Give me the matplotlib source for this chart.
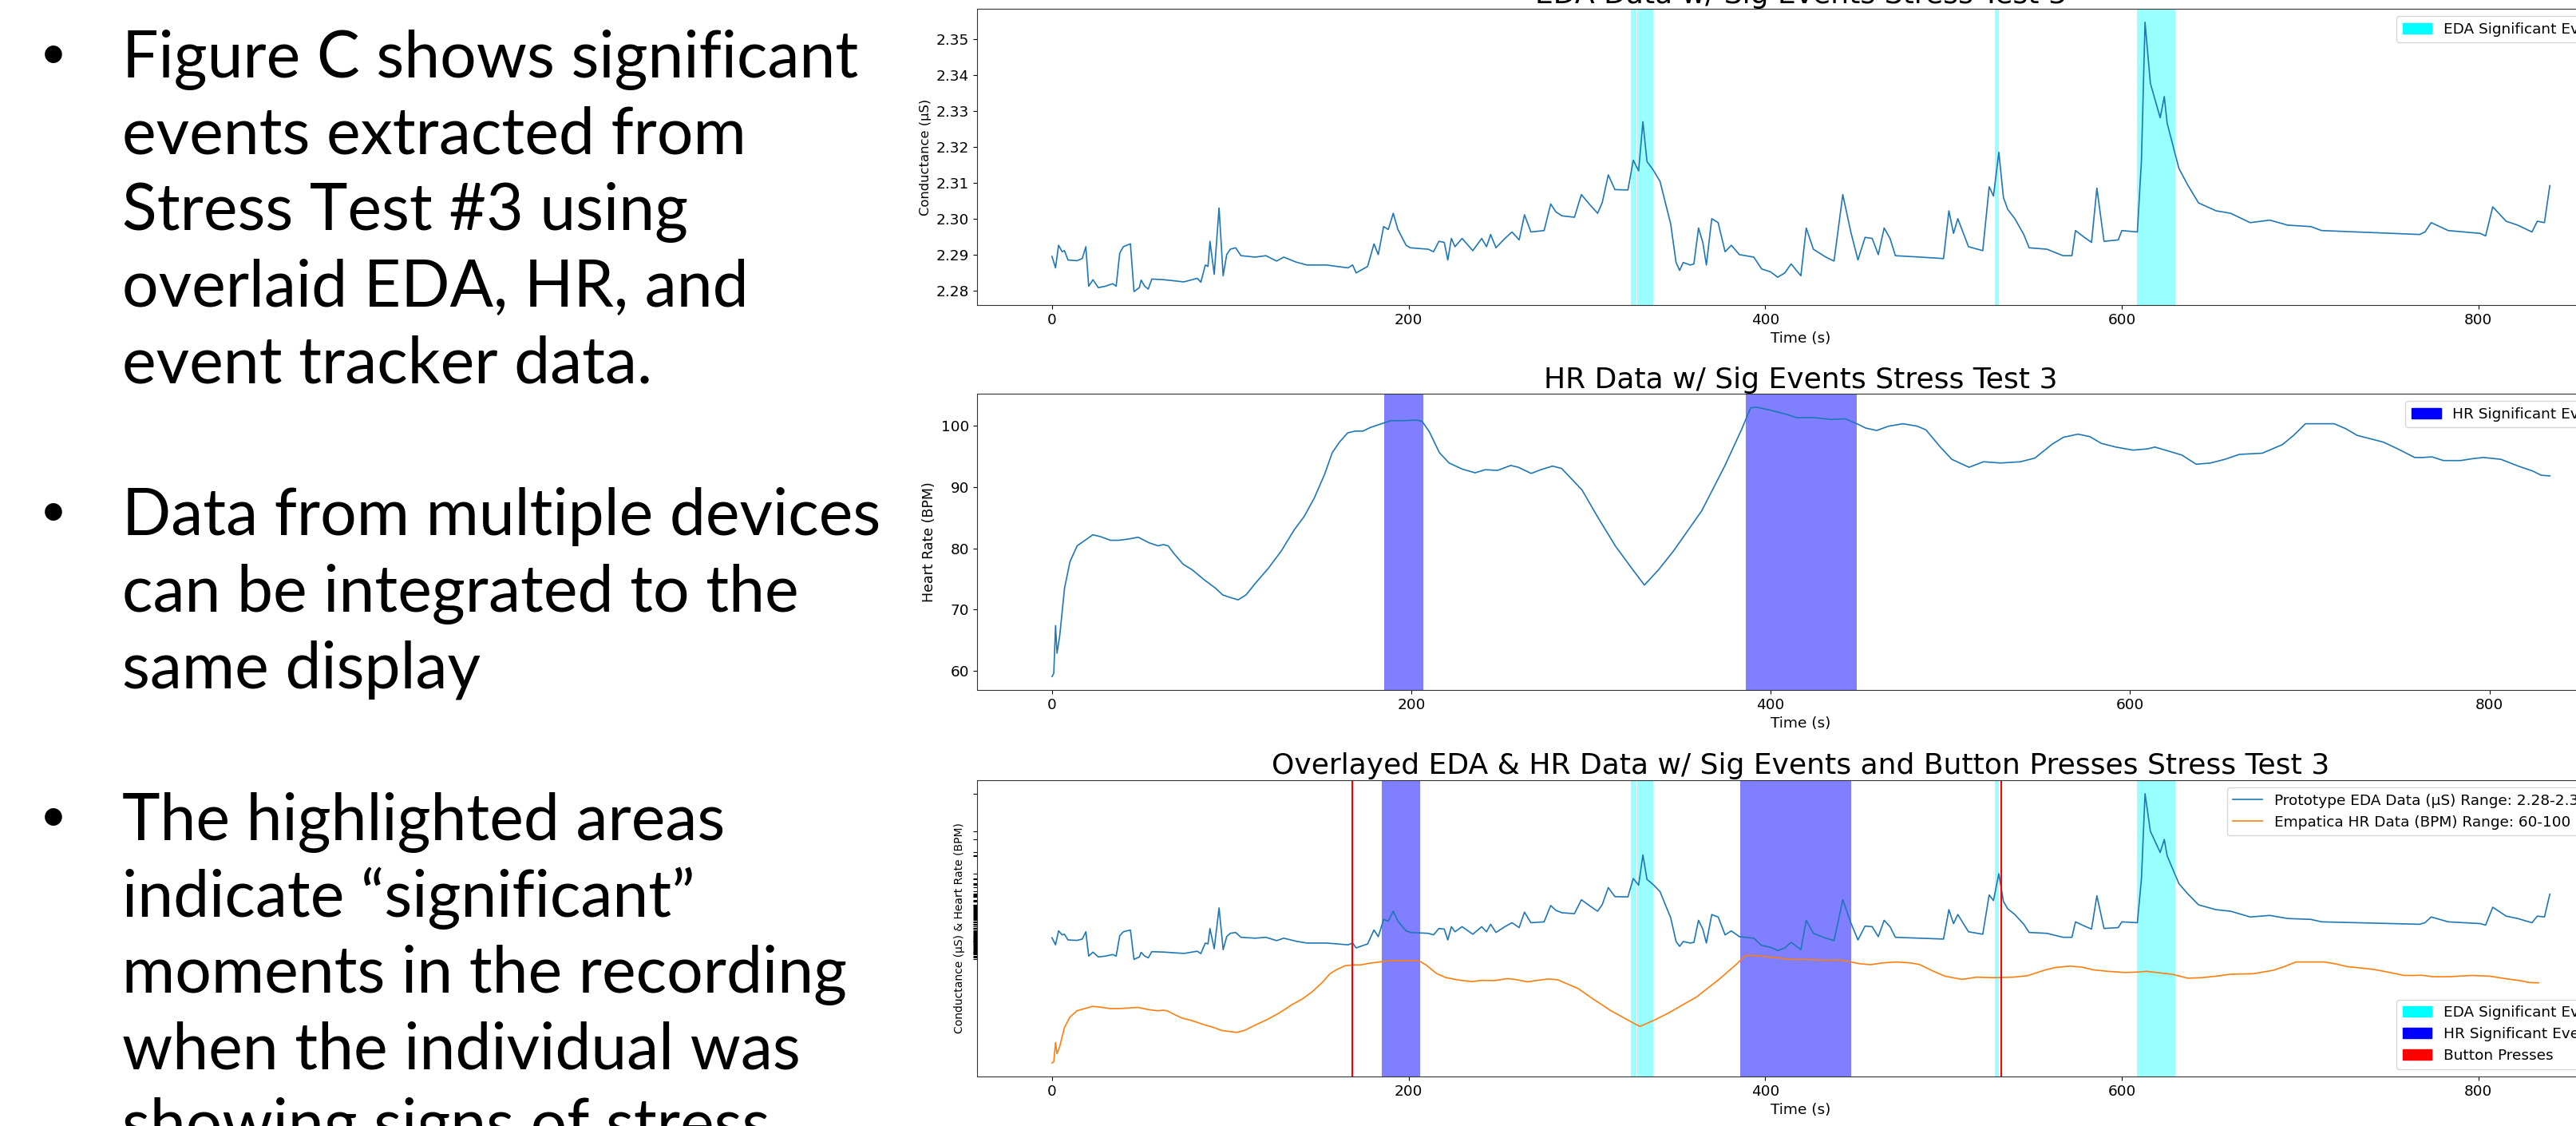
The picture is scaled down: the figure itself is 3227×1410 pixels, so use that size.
import matplotlib
matplotlib.use('Agg')
import matplotlib.pyplot as plt
from matplotlib.patches import Patch

# EDA trace (time s, conductance uS)
eda_t = [0, 2, 3.7, 5.7, 7, 9, 14, 17, 19, 20.6, 23, 26, 30, 34, 36, 38, 40, 44, 46, 49, 50, 52, 54, 56,
         63, 74, 81.5, 83.5, 86, 87.5, 88.6, 91, 93.7, 96, 98, 100, 103, 106, 114, 120, 126, 130, 137,
         143, 154, 166, 168.6, 170.6, 177, 180.6, 183, 186, 188.6, 191.4, 194, 198.6, 201, 211, 214,
         217, 220, 222, 224, 226, 230, 236, 241, 243.7, 246, 249, 254, 258, 262, 265, 268.6, 276,
         279.7, 282.6, 286, 293, 296.9, 302, 306, 308.6, 312, 315.7, 323, 326, 329, 331.4, 333.7, 337,
         341, 347, 350, 352, 354, 358, 360, 362.6, 365, 367, 370, 373.6, 377.5, 381, 385.5, 393.6, 398,
         403, 407, 411, 414.5, 420, 423, 427, 434, 438.6, 443.5, 448, 452, 456, 460, 463.4, 466.7, 470,
         473, 487, 500, 503, 505.6, 508, 514, 522, 525.6, 528, 531, 533.6, 536, 540, 545, 548, 558, 567,
         572, 574, 579, 583, 586, 590, 598, 600, 608.7, 611, 613, 616, 621.5, 623.8, 625.4, 632, 636.7,
         643, 652.8, 661, 672, 683, 693, 706, 712, 731.7, 751, 767, 770, 773.5, 783, 801, 804, 808,
         815.5, 822, 830, 833, 837, 840]
eda_v = [2.2896, 2.2864, 2.2927, 2.2909, 2.2912, 2.2886, 2.2884, 2.2890, 2.2923, 2.2813, 2.2831, 2.2809,
         2.2813, 2.2820, 2.2813, 2.2905, 2.2923, 2.2931, 2.2798, 2.2809, 2.2830, 2.2813, 2.2805, 2.2833,
         2.2831, 2.2825, 2.2835, 2.2824, 2.2872, 2.2868, 2.2938, 2.2846, 2.3031, 2.2842, 2.2901, 2.2916,
         2.2920, 2.2898, 2.2894, 2.2898, 2.2883, 2.2894, 2.2880, 2.2872, 2.2872, 2.2864, 2.2872, 2.2850,
         2.2868, 2.2931, 2.2901, 2.2979, 2.2971, 2.3016, 2.2971, 2.2927, 2.2920, 2.2916, 2.2909, 2.2938,
         2.2935, 2.2886, 2.2946, 2.2923, 2.2946, 2.2912, 2.2946, 2.2923, 2.2957, 2.2920, 2.2946, 2.2964,
         2.2942, 2.3012, 2.2964, 2.2968, 2.3042, 2.3020, 2.3009, 2.3005, 2.3068, 2.3038, 2.3016, 2.3046,
         2.3123, 2.3082, 2.3081, 2.3164, 2.3134, 2.3271, 2.3160, 2.3138, 2.3105, 2.2986, 2.2879, 2.2857,
         2.2879, 2.2872, 2.2875, 2.2975, 2.2935, 2.2872, 2.3001, 2.2990, 2.2909, 2.2927, 2.2901, 2.2894,
         2.2861, 2.2853, 2.2838, 2.2850, 2.2875, 2.2842, 2.2975, 2.2916, 2.2894, 2.2883, 2.3068, 2.2964,
         2.2886, 2.2949, 2.2946, 2.2901, 2.2975, 2.2946, 2.2898, 2.2894, 2.2890, 2.3023, 2.2960, 2.3001,
         2.2923, 2.2912, 2.3090, 2.3064, 2.3186, 2.3060, 2.3027, 2.3001, 2.2957, 2.2920, 2.2916, 2.2898,
         2.2898, 2.2968, 2.2949, 2.2935, 2.3086, 2.2938, 2.2942, 2.2968, 2.2964, 2.3164, 2.3548, 2.3378,
         2.3282, 2.3341, 2.3267, 2.3141, 2.3097, 2.3045, 2.3023, 2.3016, 2.2990, 2.2997, 2.2983, 2.2979,
         2.2968, 2.2964, 2.2960, 2.2957, 2.2964, 2.2990, 2.2968, 2.2960, 2.2953, 2.3034, 2.2994, 2.2983,
         2.2964, 2.2994, 2.2990, 2.3093]

# heart rate trace (time s, BPM)
hr_t = [0, 1, 2, 2.8, 4.3, 7, 10, 14, 18.4, 22.7, 27, 32.6, 36.9, 42.5, 48, 54, 59, 62, 64.7, 68, 73, 78,
        85, 91, 95, 99, 103.6, 108, 113.5, 120.6, 127.7, 134.8, 140.4, 146, 151.8, 156, 160, 164.5,
        168.8, 173, 177.3, 184.4, 188.7, 195.8, 202.8, 206, 210, 215.6, 221, 228.4, 235.5, 241, 248,
        255.3, 259.6, 266.7, 272, 278.6, 283.7, 295, 303.5, 313.5, 322, 329.7, 337.6, 346, 361.6,
        374.4, 384, 388.8, 392, 400, 408, 414.4, 424, 433.6, 441.6, 448, 452.8, 459, 465.6, 473.6,
        481.6, 486.4, 494.4, 500.8, 510.4, 518.4, 528, 539, 547, 556.8, 563, 571, 577.6, 584, 592,
        601.6, 609.6, 613.8, 620.8, 628.8, 636.8, 644.8, 652.8, 660.8, 673.6, 684.8, 691, 697.6, 704,
        713.6, 720, 726.4, 741, 749, 758.4, 763, 768, 774.4, 784, 790.4, 796.8, 806.4, 816, 824,
        828.8, 833.6]
hr_v = [59.1, 59.6, 67.4, 62.9, 65.7, 73.5, 77.8, 80.4, 81.3, 82.2, 81.9, 81.3, 81.3, 81.5, 81.8, 80.9,
        80.4, 80.6, 80.4, 79.1, 77.4, 76.5, 74.8, 73.5, 72.4, 72.0, 71.6, 72.4, 74.4, 76.8, 79.6, 83.0,
        85.2, 88.2, 92.1, 95.6, 97.3, 98.8, 99.1, 99.1, 99.7, 100.4, 100.8, 100.8, 100.9, 100.7, 99.0,
        95.6, 93.9, 92.9, 92.3, 92.8, 92.7, 93.5, 93.2, 92.2, 92.8, 93.4, 93.0, 89.5, 85.2, 80.4, 77.0,
        74.0, 76.5, 79.6, 86.1, 93.4, 99.5, 102.9, 103.0, 102.5, 101.9, 101.3, 101.3, 101.0, 101.1,
        100.3, 99.6, 99.2, 99.9, 100.3, 99.9, 99.3, 96.5, 94.5, 93.2, 94.1, 93.9, 94.1, 94.7, 97.0,
        98.1, 98.6, 98.2, 97.1, 96.5, 96.0, 96.2, 96.5, 95.9, 95.2, 93.7, 93.9, 94.5, 95.3, 95.5, 96.9,
        98.4, 100.3, 100.3, 100.3, 99.5, 98.4, 97.3, 96.2, 94.8, 94.8, 94.9, 94.3, 94.3, 94.6, 94.8,
        94.5, 93.4, 92.6, 91.9, 91.8]

eda_events = [(324.8, 328.0), (328.4, 337.4), (528.9, 531.1), (608.5, 630.0)]
hr_events = [(185.0, 206.5), (386.0, 448.0)]
button_presses = [168.3, 532.4]

bullets = [
    ["Figure C shows significant", "events extracted from", "Stress Test #3 using",
     "overlaid EDA, HR, and", "event tracker data."],
    ["Data from multiple devices", "can be integrated to the", "same display"],
    ["The highlighted areas", "indicate \u201csignificant\u201d", "moments in the recording",
     "when the individual was", "showing signs of stress"],
]

# how HR is squeezed under the EDA trace in the overlay
HR_GAP = 0.0469
HR_SCALE = 0.00111

W, H = 3227, 1410
plt.rcParams['font.size'] = 13.3
fig = plt.figure(figsize=(W / 100, H / 100), dpi=100)


def box(left, top, right, bottom):
    return [left / W, 1 - bottom / H, (right - left) / W, (bottom - top) / H]


# slide text
line_step = 95.5
row = 0
for para in bullets:
    for i, line in enumerate(para):
        base = 97 + row * line_step
        if i == 0:
            fig.text(67 / W, 1 - (base - 11) / H, '\u2022', fontsize=42, family='Lato',
                     ha='center', va='baseline')
        fig.text(153 / W, 1 - base / H, line, fontsize=58, family='Lato', va='baseline')
        row += 1
    row += 1

ax1 = fig.add_axes(box(1224, 11, 3288, 382))
ax2 = fig.add_axes(box(1224, 493, 3288, 864))
ax3 = fig.add_axes(box(1224, 977, 3288, 1348))

# EDA
ax1.plot(eda_t, eda_v, color='#1f77b4', lw=1.2)
for a, b in eda_events:
    ax1.axvspan(a, b, color='cyan', alpha=0.4, lw=0)
ax1.set_title('EDA Data w/ Sig Events Stress Test 3', fontsize=26, pad=5)
ax1.set_xlabel('Time (s)')
ax1.set_ylabel('Conductance (\u00b5S)', fontsize=11.8)
ax1.legend(handles=[Patch(color='cyan', label='EDA Significant Events')], loc='upper right')

# HR
ax2.plot(hr_t, hr_v, color='#1f77b4', lw=1.2)
for a, b in hr_events:
    ax2.axvspan(a, b, color='blue', alpha=0.5, lw=0)
ax2.set_title('HR Data w/ Sig Events Stress Test 3', fontsize=26, pad=5)
ax2.set_xlabel('Time (s)')
ax2.set_ylabel('Heart Rate (BPM)', fontsize=12.5)
ax2.legend(handles=[Patch(color='blue', label='HR Significant Events')], loc='upper right')

# overlay
hr_lo = min(hr_v)
hr_overlay = [min(eda_v) - HR_GAP + (v - hr_lo) * HR_SCALE for v in hr_v]
l1, = ax3.plot(eda_t, eda_v, color='#1f77b4', lw=1.2,
               label='Prototype EDA Data (\u00b5S) Range: 2.28-2.36 \u00b5S')
l2, = ax3.plot(hr_t, hr_overlay, color='#ff7f0e', lw=1.2,
               label='Empatica HR Data (BPM) Range: 60-100 BPM')
for a, b in eda_events:
    ax3.axvspan(a, b, color='cyan', alpha=0.4, lw=0)
for a, b in hr_events:
    ax3.axvspan(a, b, color='blue', alpha=0.5, lw=0)
for x in button_presses:
    ax3.axvline(x, color='red', lw=1.5)
ax3.set_yticks(sorted(set(eda_v)))
ax3.set_yticklabels([])
ax3.set_title('Overlayed EDA & HR Data w/ Sig Events and Button Presses Stress Test 3',
              fontsize=26, pad=6)
ax3.set_xlabel('Time (s)')
ax3.set_ylabel('Conductance (\u00b5S) & Heart Rate (BPM)', fontsize=10)
leg = ax3.legend(handles=[l1, l2], loc='upper right')
ax3.add_artist(leg)
ax3.legend(handles=[Patch(color='cyan', label='EDA Significant Events'),
                    Patch(color='blue', label='HR Significant Events'),
                    Patch(color='red', label='Button Presses')], loc='lower right')

for ax in (ax1, ax2, ax3):
    for s in ax.spines.values():
        s.set_color('#333333')
    ax.set_xticks([0, 200, 400, 600, 800])

fig.savefig('out.png', dpi=100)
